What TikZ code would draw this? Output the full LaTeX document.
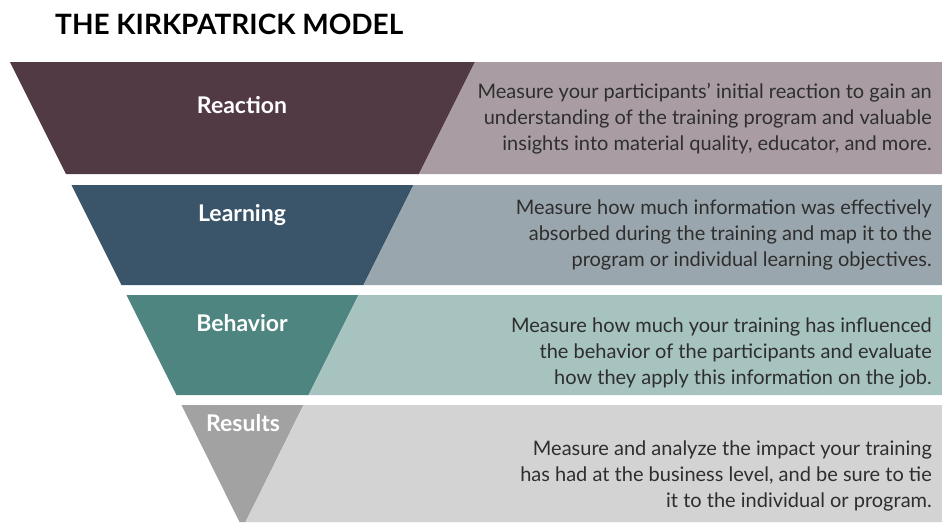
\documentclass[tikz,border=0pt]{standalone}
\usepackage{fontspec}
\setmainfont{Lato}
\definecolor{reacD}{HTML}{523A45}
\definecolor{reacL}{HTML}{A99DA3}
\definecolor{learD}{HTML}{3A5569}
\definecolor{learL}{HTML}{9AA6AE}
\definecolor{behaD}{HTML}{4E8580}
\definecolor{behaL}{HTML}{A6C3BF}
\definecolor{resuD}{HTML}{A2A2A2}
\definecolor{resuL}{HTML}{D3D3D3}
\definecolor{desctext}{HTML}{2E2E2E}
\begin{document}
\begin{tikzpicture}[x=1pt,y=-1pt,
  lvl/.style={text=white,font=\fontsize{23}{26}\selectfont\bfseries,inner sep=0pt},
  desc/.style={text=desctext,align=right,anchor=east,inner sep=0pt,
    font=\fontsize{20}{26}\selectfont},
  ttl/.style={font=\fontsize{28}{32}\selectfont\bfseries,anchor=base west,inner sep=0pt,text=black}]
\useasboundingbox (0,0) rectangle (942,522);
% funnel bands
\fill[reacD] (10,62) -- (475,62) -- (419,174) -- (66,174) -- cycle;
\fill[reacL] (475,62) -- (942,62) -- (942,174) -- (419,174) -- cycle;
\fill[learD] (71.5,185) -- (413.5,185) -- (363.5,285) -- (121.5,285) -- cycle;
\fill[learL] (413.5,185) -- (942,185) -- (942,285) -- (363.5,285) -- cycle;
\fill[behaD] (126.5,295) -- (358.5,295) -- (308.5,395) -- (176.5,395) -- cycle;
\fill[behaL] (358.5,295) -- (942,295) -- (942,395) -- (308.5,395) -- cycle;
\fill[resuD] (181.5,405) -- (303.5,405) -- (245.5,522) -- (239.5,522) -- cycle;
\fill[resuL] (303.5,405) -- (942,405) -- (942,522) -- (245.5,522) -- cycle;
% title
\node[ttl] (title) at (55,34) {THE KIRKPATRICK MODEL};
% level labels
\node[lvl] (reaction) at (242,105) {Reaction};
\node[lvl] (learning) at (242,215) {Learning};
\node[lvl] (behavior) at (242,323) {Behavior};
\node[lvl] (results) at (243,423) {Results};
% descriptions
\node[desc] (d1) at (932,119) {Measure your participants' initial reaction to gain an\\understanding of the training program and valuable\\insights into material quality, educator, and more.};
\node[desc] (d2) at (932,235) {Measure how much information was effectively\\absorbed during the training and map it to the\\program or individual learning objectives.};
\node[desc] (d3) at (932,353) {Measure how much your training has influenced\\the behavior of the participants and evaluate\\how they apply this information on the job.};
\node[desc] (d4) at (932,476) {Measure and analyze the impact your training\\has had at the business level, and be sure to tie\\it to the individual or program.};
\end{tikzpicture}
\end{document}
